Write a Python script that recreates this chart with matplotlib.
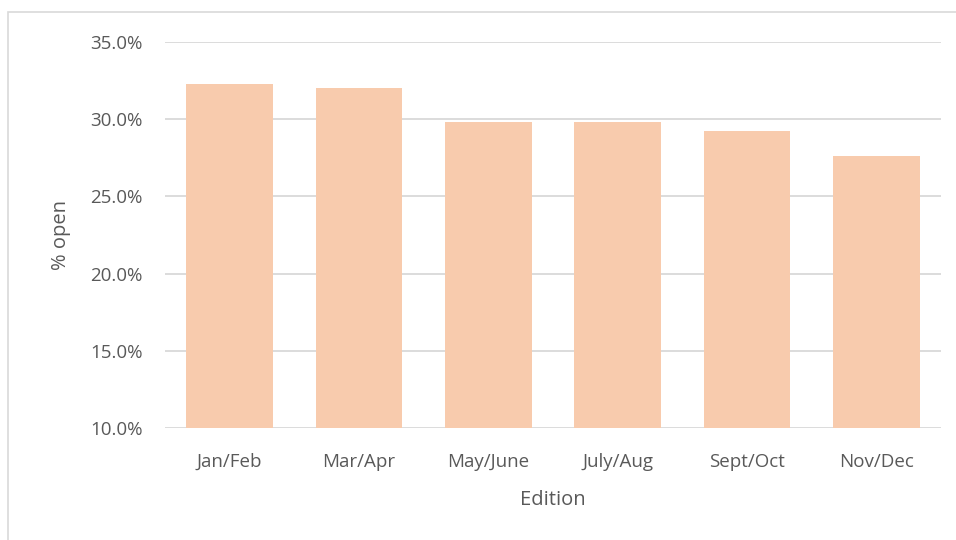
import numpy as np
import matplotlib.pyplot as plt
from matplotlib.patches import Rectangle
from matplotlib.ticker import PercentFormatter

editions = ['Jan/Feb', 'Mar/Apr', 'May/June', 'July/Aug', 'Sept/Oct', 'Nov/Dec']
pct_open = [32.25, 32.0, 29.82, 29.82, 29.25, 27.6]
y_ticks = [10, 15, 20, 25, 30, 35]

txt = '#595959'
plt.rcParams['font.family'] = ['Open Sans', 'DejaVu Sans']

fig = plt.figure(figsize=(9.56, 5.4), dpi=100)
ax = fig.add_axes([165/956, (540-428)/540, (941-165)/956, (428-42)/540])

# outer chart border
fig.patches.append(Rectangle((8/956, -0.01), 1.0, 1 - 12/540 + 0.01, transform=fig.transFigure,
                             fill=False, edgecolor='#d9d9d9', linewidth=1.2))

x = np.arange(len(editions))
ax.bar(x, pct_open, width=0.67, color='#F8CBAD', zorder=3)
ax.set_xlim(-0.5, len(editions) - 0.5)
ax.set_ylim(10, 35)
ax.set_yticks(y_ticks)
ax.yaxis.set_major_formatter(PercentFormatter(decimals=1))
ax.set_xticks(x)
ax.set_xticklabels(editions)

ax.grid(axis='y', color='#d9d9d9', linewidth=1.3, zorder=0)
for s in ax.spines.values():
    s.set_visible(False)
ax.tick_params(length=0, labelsize=13.5, colors=txt)
ax.tick_params(axis='y', pad=16)
ax.tick_params(axis='x', pad=18)

ax.set_xlabel('Edition', fontsize=14.5, color=txt, labelpad=14)
ax.set_ylabel('% open', fontsize=14.5, color=txt, labelpad=14)

fig.savefig('out.png', dpi=100)
